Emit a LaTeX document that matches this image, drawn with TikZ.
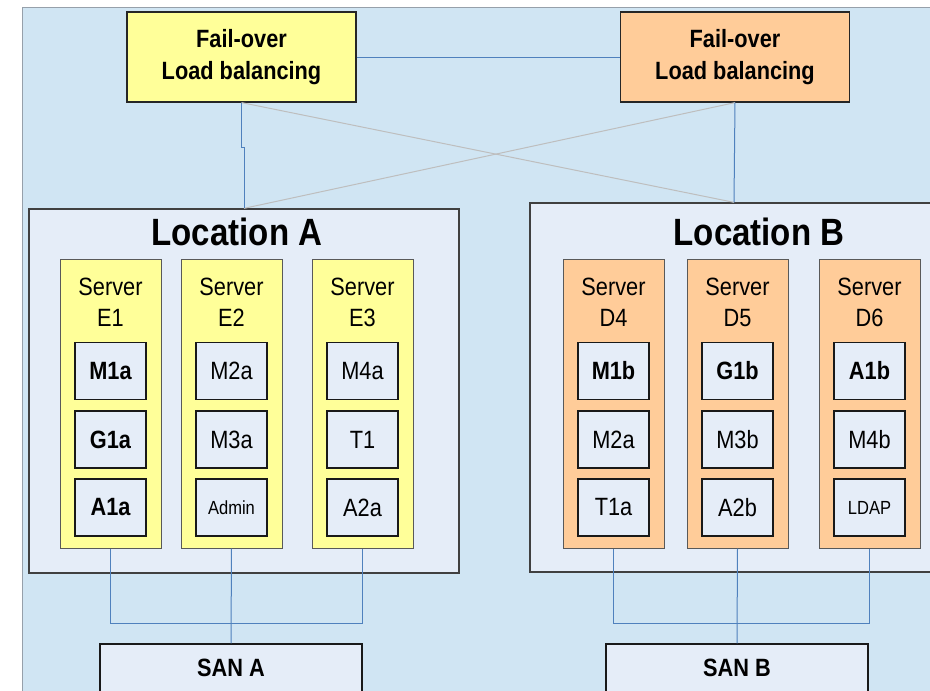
\documentclass[tikz,border=0pt]{standalone}
\usepackage{fontspec}
\setmainfont{Liberation Sans}[FakeStretch=0.87]
\usetikzlibrary{calc}
\definecolor{bgblue}{RGB}{208,229,243}
\definecolor{bgedge}{RGB}{150,160,170}
\definecolor{locfill}{RGB}{229,237,248}
\definecolor{yel}{RGB}{255,255,153}
\definecolor{ora}{RGB}{255,204,153}
\definecolor{linkblue}{RGB}{79,129,189}
\definecolor{linkgrey}{RGB}{190,190,190}
\begin{document}
\begin{tikzpicture}[x=1pt,y=-1pt,
  fobox/.style={draw=black!85, line width=1.2pt, minimum width=229pt, minimum height=90pt,
    align=center, font=\fontsize{25}{31.7}\selectfont\bfseries, inner sep=0pt},
  locbox/.style={draw=black!75, line width=1.3pt, fill=locfill, inner sep=0pt},
  loctitle/.style={font=\fontsize{38}{44}\selectfont\bfseries, inner sep=0pt},
  srvbox/.style={draw=black!65, line width=1pt, minimum width=101pt, minimum height=289pt, inner sep=0pt},
  srvlabel/.style={anchor=north, align=center, font=\fontsize{25}{31.7}\selectfont, inner sep=0pt},
  modbox/.style={draw=black!90, line width=1.1pt, fill=locfill, minimum width=71pt, minimum height=57pt,
    inner sep=0pt, font=\fontsize{25}{30}\selectfont},
  small/.style={font=\fontsize{19}{23}\selectfont},
  sanbox/.style={draw=black!90, line width=1.1pt, fill=locfill, minimum width=262pt, minimum height=48pt,
    inner sep=0pt, font=\fontsize{25}{30}\selectfont\bfseries},
  link/.style={draw=linkblue, line width=1pt},
  cross/.style={draw=linkgrey, line width=1pt}]
\useasboundingbox (0,0) rectangle (930,691);
\clip (0,0) rectangle (930,691);
\fill[white] (0,0) rectangle (930,691);
\filldraw[fill=bgblue, draw=bgedge, line width=1pt] (22.5,7.5) rectangle (945,700);

% fail-over boxes
\node[fobox, fill=yel] (lfo) at (241.5,57) {Fail-over\\Load balancing};
\node[fobox, fill=ora] (rfo) at (735,57) {Fail-over\\Load balancing};

% locations
\node[locbox, minimum width=430pt, minimum height=364pt] (locA) at (244,391) {};
\node[locbox, minimum width=408pt, minimum height=369pt] (locB) at (734,387.5) {};
\node[loctitle] (locAt) at (237,232) {Location A};
\node[loctitle] (locBt) at (759,232) {Location B};

% servers location A
\node[srvbox, fill=yel] (E1) at (110.5,403.5) {};
\node[srvbox, fill=yel] (E2) at (231.5,403.5) {};
\node[srvbox, fill=yel] (E3) at (362.5,403.5) {};
\node[srvlabel] (E1l) at ([yshift=-19pt]E1.north) {Server\\E1};
\node[srvlabel] (E2l) at ([yshift=-19pt]E2.north) {Server\\E2};
\node[srvlabel] (E3l) at ([yshift=-19pt]E3.north) {Server\\E3};

\node[modbox] (m1a) at (110.5,371) {\bfseries M1a};
\node[modbox] (g1a) at (110.5,439.5) {\bfseries G1a};
\node[modbox] (a1a) at (110.5,507.5) {\bfseries A1a};
\node[modbox] (m2a) at (231.5,371) {M2a};
\node[modbox] (m3a) at (231.5,439.5) {M3a};
\node[modbox, small] (adm) at (231.5,507.5) {Admin};
\node[modbox] (m4a) at (362.5,371) {M4a};
\node[modbox] (t1) at (362.5,439.5) {T1};
\node[modbox] (a2a) at (362.5,507.5) {A2a};

% servers location B
\node[srvbox, fill=ora] (D4) at (613.5,403.5) {};
\node[srvbox, fill=ora] (D5) at (737.5,403.5) {};
\node[srvbox, fill=ora] (D6) at (869.5,403.5) {};
\node[srvlabel] (D4l) at ([yshift=-19pt]D4.north) {Server\\D4};
\node[srvlabel] (D5l) at ([yshift=-19pt]D5.north) {Server\\D5};
\node[srvlabel] (D6l) at ([yshift=-19pt]D6.north) {Server\\D6};

\node[modbox] (m1b) at (613.5,371) {\bfseries M1b};
\node[modbox] (m2b) at (613.5,439.5) {M2a};
\node[modbox] (t1a) at (613.5,507.5) {T1a};
\node[modbox] (g1b) at (737.5,371) {\bfseries G1b};
\node[modbox] (m3b) at (737.5,439.5) {M3b};
\node[modbox] (a2b) at (737.5,507.5) {A2b};
\node[modbox] (a1b) at (869.5,371) {\bfseries A1b};
\node[modbox] (m4b) at (869.5,439.5) {M4b};
\node[modbox, small] (ldap) at (869.5,507.5) {LDAP};

% SAN boxes
\node[sanbox] (sanA) at (231,668) {SAN A};
\node[sanbox] (sanB) at (737,668) {SAN B};

% connectors
\draw[link] (lfo.east) -- (rfo.west);
\draw[cross] (lfo.south) -- (locB.north);
\draw[cross] (rfo.south) -- (locA.north);
\draw[link] (lfo.south) -- ++(0,45) -| (locA.north);
\draw[link] (rfo.south) -- (locB.north);

\draw[link] (E1.south) -- ++(0,75) -| (E3.south);
\draw[link] (E2.south) -- (sanA.north);
\draw[link] (D4.south) -- ++(0,75) -| (D6.south);
\draw[link] (D5.south) -- (sanB.north);
\end{tikzpicture}
\end{document}
